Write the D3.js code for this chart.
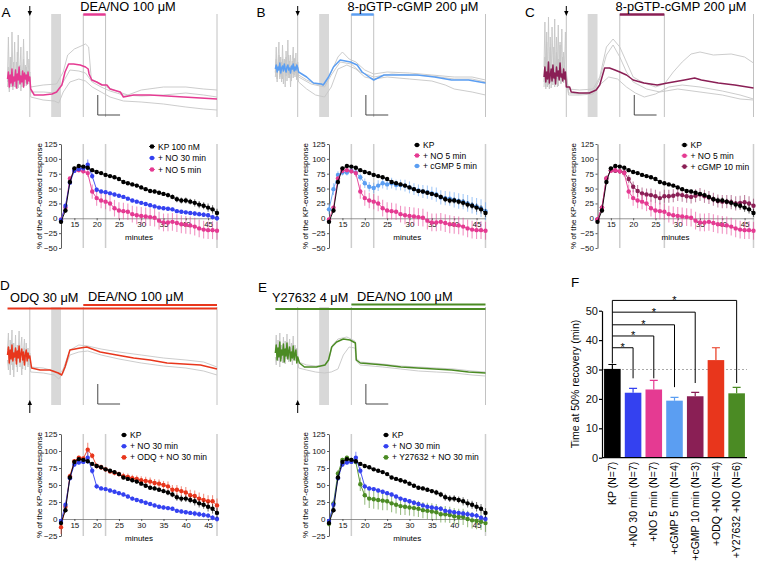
<!DOCTYPE html>
<html lang="en">
<head>
<meta charset="UTF-8">
<title>NO / cGMP and KP-evoked responses</title>
<script src="https://cdn.jsdelivr.net/npm/d3@7"></script>
<style>
    body { margin: 0; background: #fff; }
    svg { display: block; font-family: "Liberation Sans", Arial, sans-serif; }
</style>
</head>
<body>
<svg id="fig" width="757" height="570"></svg>
<script>
// ---- time course data (minutes 12..47, % of KP-evoked response) ----
const minutes = [12,13,14,15,16,17,18,19,20,21,22,23,24,25,26,27,28,29,30,31,32,33,34,35,36,37,38,39,40,41,42,43,44,45,46,47];
const xTicks = [15, 20, 25, 30, 35, 40, 45];

const kpMean = [-6,13,61,84,88,87,85,81,78,76,73,71,69,66,61,59,57,55,52,49,46,45,43,41,39,36,32,30,30,28,26,23,21,18,15,9];
const kpErr = [3,4,4,3,2,2,2,2,2,2,2,2,2,2,2,2,3,3,3,3,3,3,3,3,4,4,5,5,5,5,6,6,6,7,7,7];
const no30Mean = [-3,21,60,80,83,84,90,71,48,45,44,42,40,38,36,33,30,28,26,24,22,20,18,17,16,15,12,11,10,9,8,7,6,5,2,0];
const no30Err = [2,3,3,3,3,3,9,5,4,3,3,3,3,3,3,3,3,3,3,3,3,3,3,3,3,3,3,3,3,3,4,4,4,4,4,4];
const no5Mean = [-2,18,67,80,81,79,76,45,34,30,28,25,17,13,12,11,7,5,4,3,2,1,-4,-7,-7,-6,-8,-10,-11,-12,-14,-17,-19,-20,-20,-21];
const no5Err = [2,3,3,3,4,4,6,12,13,13,13,13,14,14,14,14,14,15,15,15,15,15,15,15,15,15,15,15,15,15,15,15,15,15,15,15];
const cgmp5Mean = [15,49,73,77,77,80,77,69,59,53,51,55,59,57,59,56,56,55,52,49,47,45,44,42,40,35,34,33,31,29,28,25,22,20,17,12];
const cgmp5Err = [8,10,6,5,5,5,5,6,8,8,9,9,9,9,9,9,9,10,10,10,10,11,11,11,12,12,12,12,13,13,13,14,14,14,15,15];
const cgmp10Mean = [-2,18,67,81,80,79,77,66,53,46,42,40,39,37,34,37,37,38,40,39,37,36,38,40,37,35,32,29,28,28,27,25,26,27,25,21];
const cgmp10Err = [3,5,5,4,4,4,5,7,9,10,10,10,11,11,11,11,11,11,11,11,11,11,11,11,11,11,11,11,11,11,12,12,12,12,12,12];
const odqMean = [-12,18,63,85,90,89,102,93,78,76,73,70,68,66,63,62,60,59,57,56,55,53,52,50,48,43,43,41,39,35,34,30,28,26,26,20];
const odqErr = [10,4,4,3,3,3,10,4,4,4,4,4,4,4,5,5,5,5,6,6,6,6,6,6,7,7,7,7,8,8,8,9,9,9,9,10];
const y27Mean = [-7,23,67,87,90,87,84,51,35,30,29,28,27,26,23,21,19,18,17,16,15,13,12,11,10,7,7,6,4,3,3,0,-2,-3,-4,-6];
const y27Err = [4,5,5,3,3,3,4,10,14,14,14,14,14,13,13,13,13,12,12,12,12,12,12,12,12,12,12,12,12,12,12,12,12,12,12,13];

// ---- raw traces: values before the arrow (0..5 min) and after it [min, value] ----
const preTimes = [0,0.2,0.4,0.6,0.8,1,1.2,1.4,1.6,1.8,2,2.2,2.4,2.6,2.8,3,3.2,3.4,3.6,3.8,4,4.2,4.4,4.6,4.8,5];

const aPre = [
    [40,80,35,60,30,85,45,38,75,33,55,42,82,36,48,70,30,44,78,39,52,34,66,41,58,40],
    [35,50,28,45,60,32,40,55,30,48,36,65,29,42,52,33,46,38,58,31,44,50,35,47,39,45],
    [30,42,25,38,33,45,27,40,35,30,44,28,39,34,48,26,37,41,29,36,43,31,38,33,40,35],
    [38,45,30,42,34,48,31,40,36,47,29,43,37,50,33,41,35,46,30,44,38,42,33,45,36,40]
];
const aPost = [
    [[5.2,30],[8,32],[11,33],[12.5,45],[13.5,62],[15,68],[17.5,73],[18.2,70],[18.8,38],[21,33],[22.3,30],[25,25],[27,22],[30,27],[35,30],[40,30],[44,28],[47,27]],
    [[5.2,20],[8,17],[10.5,16],[11.5,14],[12.5,25],[14,35],[16,38],[17.5,36],[19,30],[21,25],[23,20],[26,16],[30,15],[35,13],[40,10],[44,8],[47,7]],
    [[5.2,25],[8,25],[11,24],[12.5,35],[14,47],[16,46],[17.5,44],[19,35],[21,30],[23,26],[26,22],[30,21],[35,22],[40,24],[44,22],[47,20]],
    [[5.2,28],[6,22],[8,22],[10,23],[11,25],[12.2,32],[12.9,45],[13.7,53],[14.8,53],[16.3,52],[17.5,50],[18.1,48],[18.3,43],[18.9,37],[20,35],[21.2,32],[22.3,32],[23,28],[25.3,25],[26,20],[28.3,22],[32,22],[35.8,21],[39.5,20],[43.3,19],[47,18]]
];
const bPre = [
    [45,70,38,55,75,40,60,35,72,48,58,30,66,44,77,39,52,62,36,57,70,42,50,64,38,55],
    [40,55,35,50,62,38,48,44,58,33,52,46,60,36,50,42,56,30,47,53,39,58,44,49,37,45],
    [44,58,40,52,47,60,42,55,38,50,46,57,41,53,48,62,39,51,45,56,43,59,40,54,47,50],
    [48,52,45,50,47,54,44,49,51,46,53,48,45,50,52,47,49,44,51,48,53,46,50,47,52,49]
];
const bPost = [
    [[5.2,42],[7,37],[9,33],[11,32],[12.5,45],[14,60],[15,65],[16.5,58],[18,55],[20,47],[22,43],[25,45],[30,44],[35,42],[40,40],[44,40],[47,37]],
    [[5.2,35],[7,28],[9,22],[11,20],[12.5,30],[14,48],[16,52],[18,48],[20,40],[22,38],[25,40],[30,38],[35,36],[38,32],[40,28],[44,25],[47,22]],
    [[5.2,40],[8,33],[11,30],[12.5,42],[14.5,55],[17,53],[19,45],[22,40],[26,43],[30,42],[35,41],[40,38],[44,38],[47,35]],
    [[5.2,45],[7,40],[8.5,34],[10.3,33],[10.7,32],[11.9,40],[13,50],[14.5,57],[16.8,55],[18.3,52],[19.4,45],[21.3,39],[22,37],[24.3,42],[28.1,42],[31.8,42],[35.6,40],[39.4,37],[43.2,37],[47,34]]
];
const cPre = [
    [50,95,40,85,30,100,45,70,35,90,55,40,98,33,80,48,92,38,75,42,88,36,65,50,85,40],
    [35,60,30,75,40,55,28,80,38,50,32,70,45,35,65,30,58,42,72,34,48,60,36,52,40,45],
    [30,45,28,40,50,32,38,55,29,42,35,48,30,44,38,52,31,40,46,33,39,50,34,42,37,40],
    [40,50,35,45,38,55,34,42,48,36,52,39,44,33,50,41,46,37,54,40,43,36,48,38,45,30]
];
const cPost = [
    [[5.5,28],[8,27],[11,28],[12.5,40],[14,70],[15.5,78],[17,70],[18.5,55],[20,40],[22,35],[25,30],[27,33],[29,45],[31,55],[33,63],[35,65],[38,62],[42,63],[45,60],[47,54]],
    [[5.5,24],[8,23],[11,25],[12.5,38],[14,62],[15.5,72],[17,60],[18.5,45],[20,35],[23,28],[26,25],[30,28],[35,25],[40,22],[44,18],[47,17]],
    [[5.5,22],[8,22],[11,23],[12.5,32],[14.5,40],[16.5,38],[18.5,30],[20.5,24],[22.5,20],[25,23],[28,30],[31,32],[35,30],[40,26],[44,22],[47,18]],
    [[5.75,30],[6.1,25],[7.9,24],[10.2,24],[11.7,27],[12.5,32],[13.6,49],[14.7,49],[15.9,47],[17,45],[18.5,42],[20,37],[22.4,34],[25.4,32],[27.7,34],[31.5,37],[33.8,39],[35.3,37],[39.1,34],[42.8,32],[47,29]]
];
const dPre = [
    [55,72,40,65,50,75,35,62,45,70,38,60,52,74,42,58,68,36,55,66,44,62,48,57,40,52],
    [45,35,58,30,52,40,62,28,50,44,56,33,48,60,38,46,30,54,42,57,35,50,45,38,52,44],
    [50,58,42,55,46,60,44,52,48,57,41,54,47,59,43,51,56,45,53,40,50,55,44,52,47,49]
];
const dPost = [
    [[5.2,38],[8,37],[10.5,34],[11.5,30],[12.5,36],[14,55],[16,60],[18,59],[21,56],[25,53],[30,50],[35,47],[40,45],[44,43],[47,38]],
    [[5.2,33],[8,32],[10.5,30],[11.5,26],[12.5,32],[14,50],[16,53],[18,54],[21,50],[25,46],[30,42],[35,39],[40,37],[44,34],[47,30]],
    [[5.4,37],[7.3,35],[9.5,35],[11.4,32],[12.15,30],[12.9,38],[14,55],[16.3,57],[17.8,58],[20.8,53],[24.5,50],[28.3,47],[32,45],[35.8,42],[39.5,41],[43.3,40],[47,36]]
];
const ePre = [
    [55,70,45,65,50,72,48,60,42,68,52,64,46,71,50,58,66,44,62,54,69,47,60,52,57,50],
    [48,40,58,44,53,38,60,46,50,42,56,41,54,47,59,43,51,45,57,40,52,48,55,44,50,46],
    [52,60,45,57,48,63,44,55,50,61,43,56,49,62,46,54,58,44,53,47,59,45,51,55,42,48]
];
const ePost = [
    [[5.2,37],[7,35],[9,33],[11,32],[12.5,33],[14,36],[15.2,50],[16.5,58],[17.8,57],[18.1,44],[19,40],[24,38],[28,36],[32,34],[36,33],[40,32],[44,30],[47,29]],
    [[5.2,43],[7,40],[9,39],[11,40],[12,46],[12.8,60],[14,66],[16,68],[17.8,64],[18.1,47],[19,43],[24,41],[28,39],[32,38],[36,37],[40,36],[44,34],[47,33]],
    [[5.4,42],[6.5,38],[9.2,38],[11.1,40],[11.9,45],[12.6,58],[13.7,63],[15.2,66],[16.7,65],[17.9,62],[18.1,45],[19,42],[24.3,40],[28.1,38],[31.8,37],[35.6,36],[39.4,35],[43.2,33],[47,32]]
];

// ---- panel F: time at 50% recovery ----
const fCats = ["KP (N=7)", "+NO 30 min (N=7)", "+NO 5 min (N=7)", "+cGMP 5 min (N=4)", "+cGMP 10 min (N=3)", "+ODQ +NO (N=4)", "+Y27632 +NO (N=6)"];
const fMeans = [30.2, 22.1, 23.2, 19.4, 20.9, 33.2, 21.9];
const fErr = [1.5, 1.5, 3.1, 1.1, 1.3, 4.2, 2.0];
const bracketTargets = [1, 2, 3, 4, 6];
const bracketHeights = [37.4, 41.4, 45.2, 49.5, 53.5];
const bracketEnds = [27, 27, 24, 25.4, 25.4];

const C = {
    black: "#000000", blue: "#3441f0", pink: "#e53a92", lblue: "#5b9ef2",
    maroon: "#8a1f55", red: "#e8361c", green: "#4b8b24", gray: "#c6c6c6"
};
const fColors = [C.black, C.blue, C.pink, C.lblue, C.maroon, C.red, C.green];

const svg = d3.select("#fig");
svg.append("rect").attr("width", 757).attr("height", 570).attr("fill", "#fff");

function styleAxis(g, size) {
    g.attr("font-size", size).attr("font-family", null);
    g.selectAll("path, line").attr("stroke", "#333").attr("stroke-width", 0.8);
    g.selectAll("text").attr("fill", "#111");
}

// ---------- time course charts ----------
function drawCurves(c) {
    const x = d3.scaleLinear().domain([12, 47]).range([c.x0, c.x1]);
    const y = d3.scaleLinear().domain(c.domain).range([c.yBot, c.yTop]);
    const g = svg.append("g");

    g.selectAll(".vl").data(c.vlines).join("line")
        .attr("x1", d => x(d)).attr("x2", d => x(d))
        .attr("y1", c.yTop).attr("y2", c.yBot)
        .attr("stroke", "#cdcdcd").attr("stroke-width", 1.5);

    const ya = g.append("g").attr("transform", `translate(${c.x0},0)`)
        .call(d3.axisLeft(y).tickValues(c.yTicks).tickSize(2).tickPadding(1.5).tickSizeOuter(0));
    styleAxis(ya, 8);
    const xa = g.append("g").attr("transform", `translate(0,${y(0)})`)
        .call(d3.axisBottom(x).tickValues(xTicks).tickSize(2).tickPadding(1.5).tickSizeOuter(0));
    styleAxis(xa, 8);
    xa.select(".domain").attr("stroke", "#777");

    g.append("text").attr("x", (c.x0 + c.x1) / 2).attr("y", c.minutesY)
        .attr("text-anchor", "middle").attr("font-size", 8).text("minutes");
    g.append("text")
        .attr("transform", `translate(${c.ylabelX},${(c.yTop + c.yBot) / 2}) rotate(-90)`)
        .attr("text-anchor", "middle").attr("font-size", 8)
        .text("% of the KP-evoked response");

    c.series.slice().reverse().forEach(s => {
        const sg = g.append("g");
        sg.selectAll("line").data(minutes).join("line")
            .attr("x1", d => x(d)).attr("x2", d => x(d))
            .attr("y1", (d, i) => y(s.mean[i] - s.err[i]))
            .attr("y2", (d, i) => y(s.mean[i] + s.err[i]))
            .attr("stroke", s.color).attr("stroke-opacity", 0.55).attr("stroke-width", 1.1);
        sg.append("path").datum(minutes)
            .attr("d", d3.line().x(d => x(d)).y((d, i) => y(s.mean[i])))
            .attr("fill", "none").attr("stroke", s.color).attr("stroke-width", 0.9);
        sg.selectAll("circle").data(minutes).join("circle")
            .attr("cx", d => x(d)).attr("cy", (d, i) => y(s.mean[i]))
            .attr("r", 2.2).attr("fill", s.color);
    });

    const lg = g.append("g");
    c.series.forEach((s, i) => {
        const ly = c.legend.y + i * c.legend.dy;
        lg.append("line").attr("x1", c.legend.x - 3).attr("x2", c.legend.x + 3)
            .attr("y1", ly).attr("y2", ly).attr("stroke", s.color).attr("stroke-width", 0.8);
        lg.append("circle").attr("cx", c.legend.x).attr("cy", ly).attr("r", 2.3).attr("fill", s.color);
        lg.append("text").attr("x", c.legend.x + 6).attr("y", ly + 3)
            .attr("font-size", 8.5).text(s.label);
    });
}

// ---------- raw fluorescence traces ----------
function drawTrace(c) {
    const x = d3.scaleLinear().domain([12, 47]).range([c.x0, c.x1]);
    const y = d3.scaleLinear().domain(c.vDomain).range([c.yBot, c.yTop]);
    const g = svg.append("g");

    g.append("rect").attr("x", x(9.8)).attr("width", x(12) - x(9.8))
        .attr("y", c.yTop).attr("height", c.yBot - c.yTop).attr("fill", "#d8d8d8");
    g.selectAll(".vl").data(c.vlines).join("line")
        .attr("x1", d => x(d)).attr("x2", d => x(d))
        .attr("y1", c.yTop).attr("y2", c.yBot)
        .attr("stroke", "#c2c2c2").attr("stroke-width", 1);

    const line = d3.line().x(d => x(d[0])).y(d => y(d[1]));
    const n = c.pre.length;
    c.pre.forEach((pre, k) => {
        const pts = pre.map((v, i) => [preTimes[i], v]).concat(c.post[k]);
        const isMean = k === n - 1;
        g.append("path").datum(pts).attr("d", line).attr("fill", "none")
            .attr("stroke", isMean ? c.color : C.gray)
            .attr("stroke-width", isMean ? 1.5 : 0.9)
            .attr("stroke-linejoin", "round");
    });

    // scale bar
    g.append("path")
        .attr("d", `M${x(20.25)},${y(c.bar[0]) - 20}V${y(c.bar[0])}H${x(25.25)}`)
        .attr("fill", "none").attr("stroke", "#333").attr("stroke-width", 0.9);

    // drug application bars and labels
    c.drugs.forEach(d => {
        g.append("line").attr("x1", x(d.from)).attr("x2", x(d.to))
            .attr("y1", d.y).attr("y2", d.y)
            .attr("stroke", d.color).attr("stroke-width", d.w);
    });
    c.labels.forEach(l => {
        g.append("text").attr("x", l.x).attr("y", l.y).attr("text-anchor", l.anchor)
            .attr("font-size", 12.8).text(l.text);
    });

    // stimulus arrow
    const ax = x(5);
    if (c.arrow === "down") {
        g.append("line").attr("x1", ax).attr("x2", ax).attr("y1", 6).attr("y2", 12)
            .attr("stroke", "#000").attr("stroke-width", 1);
        g.append("path").attr("d", `M${ax - 2.2},11L${ax + 2.2},11L${ax},16Z`).attr("fill", "#000");
    } else {
        g.append("line").attr("x1", ax).attr("x2", ax).attr("y1", 404).attr("y2", 413)
            .attr("stroke", "#000").attr("stroke-width", 1);
        g.append("path").attr("d", `M${ax - 2.2},405L${ax + 2.2},405L${ax},400Z`).attr("fill", "#000");
    }
}

const yTicksTop = [-50, -25, 0, 25, 50, 75, 100, 125];
const yTicksBot = [-25, 0, 25, 50, 75, 100, 125];
const geoA = { x0: 61, x1: 217 }, geoB = { x0: 329, x1: 485.5 }, geoC = { x0: 597.5, x1: 753.5 };

// top row traces
drawTrace({ ...geoA, yTop: 14, yBot: 117, vDomain: [0, 103], vlines: [5, 17, 22, 47],
    pre: aPre, post: aPost, color: C.pink, bar: [2], arrow: "down",
    drugs: [{ from: 17, to: 22, y: 14.5, color: C.pink, w: 2.5 }],
    labels: [{ x: 128, y: 11, anchor: "middle", text: "DEA/NO 100 \u03bcM" }] });
drawTrace({ ...geoB, yTop: 14, yBot: 117, vDomain: [0, 103], vlines: [5, 17, 22, 47],
    pre: bPre, post: bPost, color: C.lblue, bar: [2], arrow: "down",
    drugs: [{ from: 17, to: 22, y: 14.5, color: C.lblue, w: 2.5 }],
    labels: [{ x: 413, y: 11, anchor: "middle", text: "8-pGTP-cGMP 200 \u03bcM" }] });
drawTrace({ ...geoC, yTop: 14, yBot: 117, vDomain: [0, 103], vlines: [5, 17, 27, 47],
    pre: cPre, post: cPost, color: C.maroon, bar: [2], arrow: "down",
    drugs: [{ from: 17, to: 27, y: 14.5, color: C.maroon, w: 2.5 }],
    labels: [{ x: 681, y: 11, anchor: "middle", text: "8-pGTP-cGMP 200 \u03bcM" }] });

// bottom row traces
drawTrace({ ...geoA, yTop: 307, yBot: 405, vDomain: [0, 98], vlines: [5, 17, 47],
    pre: dPre, post: dPost, color: C.red, bar: [1], arrow: "up",
    drugs: [{ from: 0, to: 47, y: 308.5, color: C.red, w: 2.2 }, { from: 17, to: 47, y: 305, color: C.red, w: 2.2 }],
    labels: [{ x: 10, y: 302, anchor: "start", text: "ODQ 30 \u03bcM" }, { x: 88, y: 300.5, anchor: "start", text: "DEA/NO 100 \u03bcM" }] });
drawTrace({ ...geoB, yTop: 307, yBot: 405, vDomain: [0, 98], vlines: [5, 17, 47],
    pre: ePre, post: ePost, color: C.green, bar: [1], arrow: "up",
    drugs: [{ from: 0, to: 47, y: 309, color: C.green, w: 2.2 }, { from: 17, to: 47, y: 304.5, color: C.green, w: 2.2 }],
    labels: [{ x: 272, y: 302, anchor: "start", text: "Y27632 4 \u03bcM" }, { x: 357, y: 300.5, anchor: "start", text: "DEA/NO 100 \u03bcM" }] });

// time course charts
const sKP = { mean: kpMean, err: kpErr, color: C.black };
drawCurves({ ...geoA, yTop: 144, yBot: 248, domain: [-50, 125], yTicks: yTicksTop, vlines: [17, 22, 47],
    minutesY: 239.5, ylabelX: 42, legend: { x: 152, y: 146.5, dy: 11.5 },
    series: [{ ...sKP, label: "KP 100 nM" }, { mean: no30Mean, err: no30Err, color: C.blue, label: "+ NO 30 min" },
             { mean: no5Mean, err: no5Err, color: C.pink, label: "+ NO 5 min" }] });
drawCurves({ ...geoB, yTop: 144, yBot: 248, domain: [-50, 125], yTicks: yTicksTop, vlines: [17, 22, 47],
    minutesY: 239.5, ylabelX: 307.5, legend: { x: 417, y: 145, dy: 10.5 },
    series: [{ ...sKP, label: "KP" }, { mean: no5Mean, err: no5Err, color: C.pink, label: "+ NO 5 min" },
             { mean: cgmp5Mean, err: cgmp5Err, color: C.lblue, label: "+ cGMP 5 min" }] });
drawCurves({ ...geoC, yTop: 144, yBot: 248, domain: [-50, 125], yTicks: yTicksTop, vlines: [17, 27, 47],
    minutesY: 239.5, ylabelX: 576, legend: { x: 684.5, y: 145, dy: 10.8 },
    series: [{ ...sKP, label: "KP" }, { mean: no5Mean, err: no5Err, color: C.pink, label: "+ NO 5 min" },
             { mean: cgmp10Mean, err: cgmp10Err, color: C.maroon, label: "+ cGMP 10 min" }] });
drawCurves({ ...geoA, yTop: 434, yBot: 536, domain: [-25, 125], yTicks: yTicksBot, vlines: [17, 22, 47],
    minutesY: 541, ylabelX: 42, legend: { x: 124, y: 435, dy: 11.2 },
    series: [{ ...sKP, label: "KP" }, { mean: no30Mean, err: no30Err, color: C.blue, label: "+ NO 30 min" },
             { mean: odqMean, err: odqErr, color: C.red, label: "+ ODQ + NO 30 min" }] });
drawCurves({ ...geoB, yTop: 434, yBot: 536, domain: [-25, 125], yTicks: yTicksBot, vlines: [17, 47],
    minutesY: 541, ylabelX: 308, legend: { x: 386, y: 435, dy: 11.2 },
    series: [{ ...sKP, label: "KP" }, { mean: no30Mean, err: no30Err, color: C.blue, label: "+ NO 30 min" },
             { mean: y27Mean, err: y27Err, color: C.green, label: "+ Y27632 + NO 30 min" }] });

// ---------- panel F ----------
(function () {
    const x = d3.scaleBand().domain(fCats).range([602, 747]).paddingInner(0.2).paddingOuter(0.1);
    const y = d3.scaleLinear().domain([0, 50]).range([457.7, 310.7]);
    const g = svg.append("g");
    const cx = i => x(fCats[i]) + x.bandwidth() / 2;

    g.append("line").attr("x1", 602).attr("x2", 747).attr("y1", y(30)).attr("y2", y(30))
        .attr("stroke", "#aaa").attr("stroke-width", 1).attr("stroke-dasharray", "2,2");

    g.selectAll("rect.bar").data(fCats).join("rect")
        .attr("x", d => x(d)).attr("width", x.bandwidth())
        .attr("y", (d, i) => y(fMeans[i])).attr("height", (d, i) => y(0) - y(fMeans[i]))
        .attr("fill", (d, i) => fColors[i]);
    g.selectAll("path.err").data(fCats).join("path")
        .attr("d", (d, i) => `M${cx(i)},${y(fMeans[i])}V${y(fMeans[i] + fErr[i])}M${cx(i) - 4},${y(fMeans[i] + fErr[i])}H${cx(i) + 4}`)
        .attr("stroke", (d, i) => fColors[i]).attr("stroke-width", 1.2).attr("fill", "none");

    const ya = g.append("g").attr("transform", "translate(602,0)")
        .call(d3.axisLeft(y).tickValues([0, 10, 20, 30, 40, 50]).tickSize(3).tickPadding(1).tickSizeOuter(0));
    styleAxis(ya, 11);
    ya.selectAll("path, line").attr("stroke", "#000").attr("stroke-width", 1.2);
    g.append("line").attr("x1", 602).attr("x2", 747).attr("y1", y(0)).attr("y2", y(0))
        .attr("stroke", "#000").attr("stroke-width", 1.2);

    g.selectAll("text.cat").data(fCats).join("text")
        .attr("transform", (d, i) => `translate(${cx(i)},${y(0) + 4}) rotate(-90)`)
        .attr("dy", "0.35em").attr("text-anchor", "end").attr("font-size", 10.5).text(d => d);

    g.append("text").attr("transform", `translate(579,${384}) rotate(-90)`)
        .attr("text-anchor", "middle").attr("font-size", 10.5).text("Time at 50% recovery (min)");

    // significance brackets
    const kx = cx(0);
    g.append("line").attr("x1", kx).attr("x2", kx)
        .attr("y1", y(fMeans[0] + fErr[0]) - 1).attr("y2", y(d3.max(bracketHeights)))
        .attr("stroke", "#000").attr("stroke-width", 1);
    bracketTargets.forEach((t, i) => {
        const h = y(bracketHeights[i]);
        g.append("path").attr("d", `M${kx},${h}H${cx(t)}V${y(bracketEnds[i])}`)
            .attr("fill", "none").attr("stroke", "#000").attr("stroke-width", 1);
        g.append("text").attr("x", (kx + cx(t)) / 2).attr("y", h + 3.5)
            .attr("text-anchor", "middle").attr("font-size", 11).text("*");
    });
})();

// panel letters
[["A", 1.5, 17], ["B", 256.5, 17], ["C", 525, 17], ["D", 0, 290], ["E", 258, 292], ["F", 571, 287]]
    .forEach(p => {
        svg.append("text").attr("x", p[1]).attr("y", p[2]).attr("font-size", 13.5).text(p[0]);
    });
</script>
</body>
</html>
